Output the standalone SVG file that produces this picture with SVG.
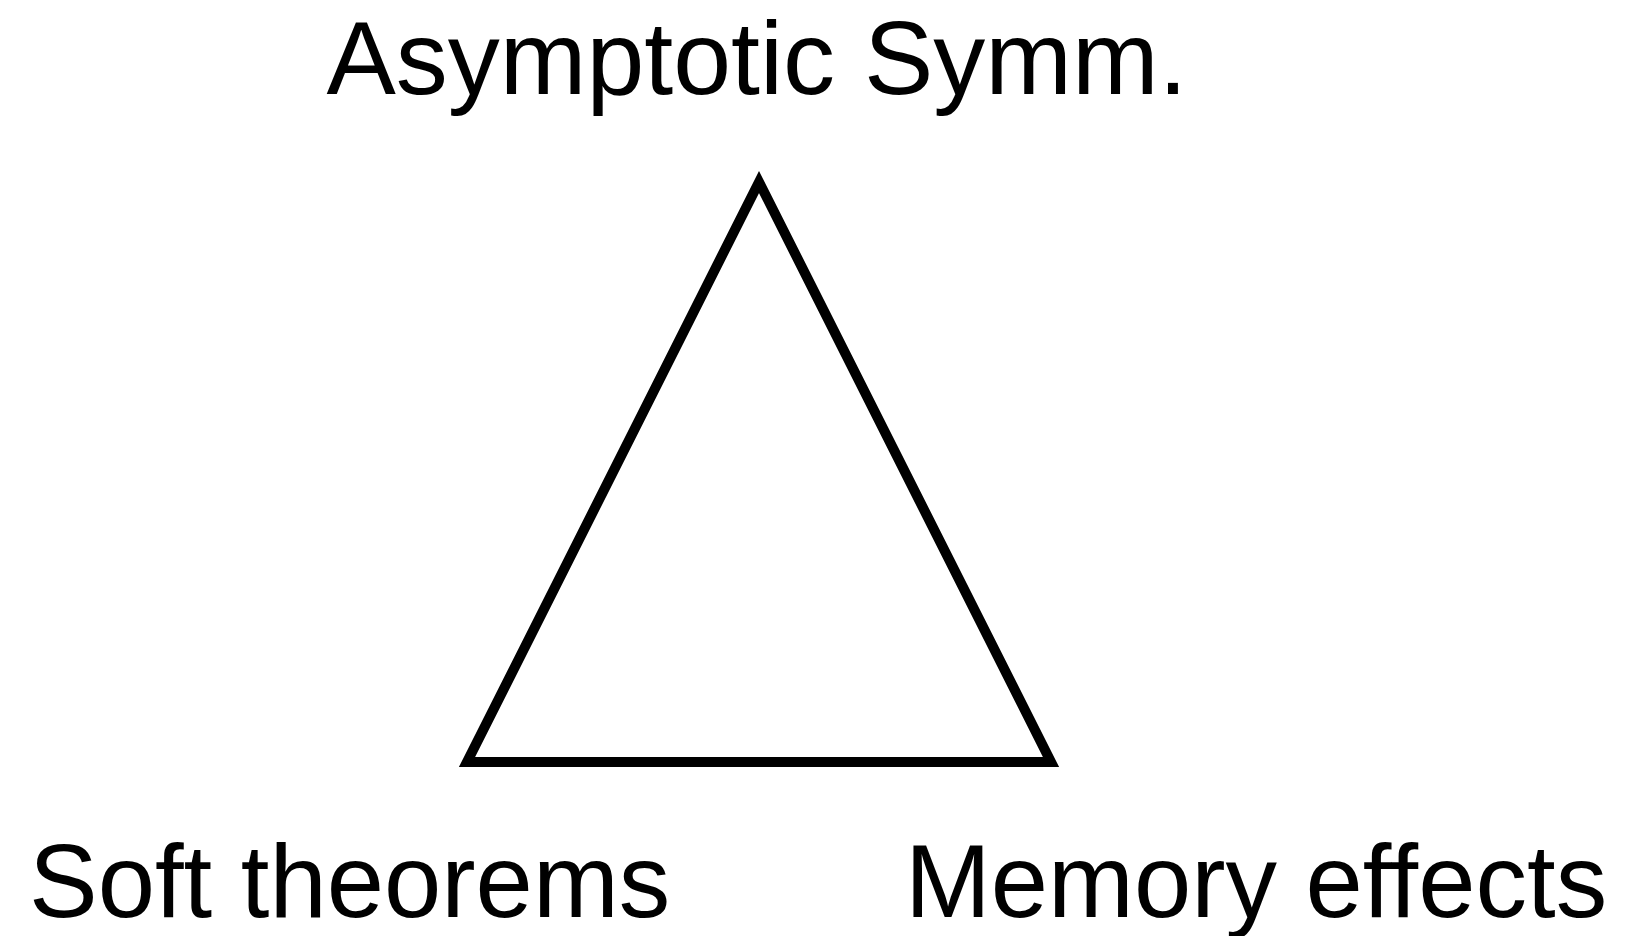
<svg xmlns="http://www.w3.org/2000/svg" width="1625" height="936" viewBox="0 0 1625 936">
<style>
.lbl{font-family:"Liberation Sans",Arial,sans-serif;font-size:103px;fill:#000}
.tri{fill:none;stroke:#000;stroke-width:10;stroke-miterlimit:10}
</style>
<rect width="1625" height="936" fill="#fff"/>
<g id="triangle"><polygon class="tri" points="759,182 1051,762 467,762"/></g>
<g id="node-top"><text class="lbl" x="757" y="94" text-anchor="middle" style="font-size:104px">Asymptotic Symm.</text></g>
<g id="node-left"><text class="lbl" x="29" y="917">Soft theorems</text></g>
<g id="node-right"><text class="lbl" x="905" y="917">Memory effects</text></g>
<g id="connectors"></g>
</svg>
